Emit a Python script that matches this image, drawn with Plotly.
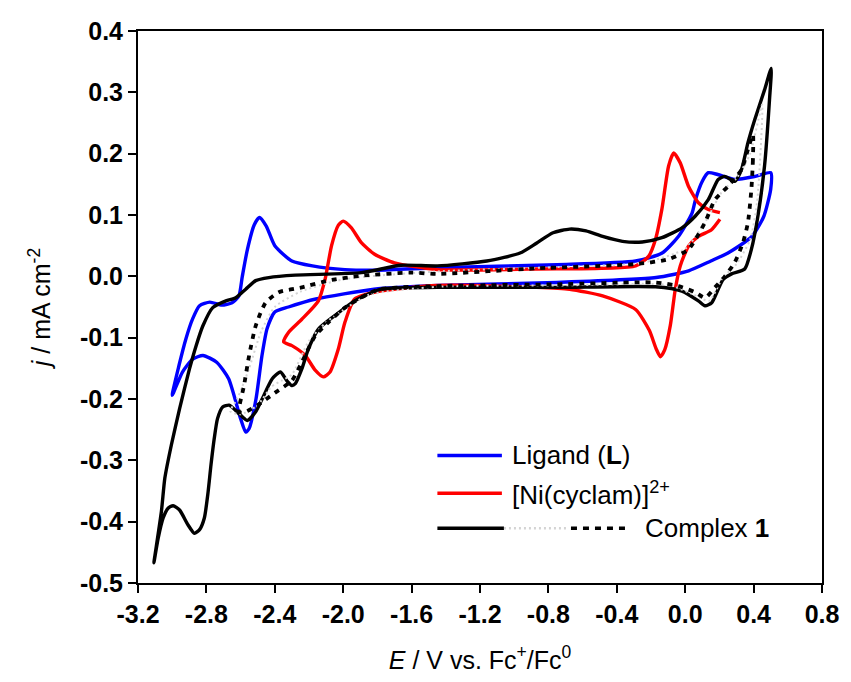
import plotly.graph_objects as go

# ---------------- data ----------------
# Ligand (L): potential (V vs Fc+/Fc0) and current density (mA cm-2)
E_ligand = [0.50, 0.50, 0.46, 0.39, 0.25, 0.15, 0.02, -0.17, -0.75, -1.45,
            -1.82, -2.16, -2.32, -2.40, -2.445, -2.475, -2.51, -2.55, -2.57, -2.60,
            -2.67, -2.74, -2.82, -2.88, -2.94, -3.00,
            -2.96, -2.92, -2.88, -2.84, -2.78, -2.71, -2.65, -2.61, -2.59, -2.56,
            -2.52, -2.49, -2.45, -2.40, -2.30, -2.18, -1.99, -1.80, -1.45, -0.75,
            -0.29, -0.135, -0.04, 0.04, 0.06, 0.10, 0.135, 0.19, 0.29, 0.41, 0.50]
j_ligand = [0.169, 0.142, 0.098, 0.065, 0.038, 0.025, 0.009, -0.002, -0.010, -0.015,
            -0.021, -0.037, -0.050, -0.058, -0.085, -0.129, -0.200, -0.248, -0.254, -0.232,
            -0.167, -0.140, -0.129, -0.135, -0.156, -0.194,
            -0.145, -0.102, -0.069, -0.048, -0.042, -0.047, -0.043, -0.032, 0.000, 0.044,
            0.084, 0.096, 0.082, 0.050, 0.025, 0.017, 0.011, 0.010, 0.014, 0.019,
            0.025, 0.038, 0.065, 0.103, 0.125, 0.155, 0.169, 0.166, 0.158, 0.163, 0.169]

# [Ni(cyclam)]2+
E_ni = [0.203, 0.154, 0.077, 0.019, -0.029, -0.058, -0.087, -0.12, -0.145, -0.17,
        -0.21, -0.29, -0.483, -0.676, -0.87, -1.45, -1.80, -1.933, -1.99, -2.029,
        -2.077, -2.116, -2.164, -2.222, -2.30, -2.348,
        -2.319, -2.242, -2.145, -2.106, -2.068, -2.029, -2.00, -1.952, -1.894, -1.816,
        -1.70, -1.45, -0.87, -0.29, -0.213, -0.174, -0.136, -0.097, -0.067, -0.029,
        0.019, 0.077, 0.135, 0.203]
j_ni = [0.093, 0.076, 0.065, 0.049, 0.017, -0.021, -0.080, -0.120, -0.131, -0.118,
        -0.088, -0.054, -0.032, -0.021, -0.018, -0.015, -0.025, -0.037, -0.075, -0.119,
        -0.156, -0.164, -0.153, -0.129, -0.113, -0.107,
        -0.091, -0.070, -0.040, -0.005, 0.050, 0.083, 0.090, 0.079, 0.055, 0.036,
        0.022, 0.011, 0.012, 0.017, 0.033, 0.060, 0.110, 0.180, 0.201, 0.185,
        0.147, 0.120, 0.109, 0.104]

# Complex 1, first scan (solid)
E_c1_first = [0.503, 0.493, 0.464, 0.425, 0.387, 0.348, 0.271, 0.222, 0.193, 0.155,
              0.116, 0.077, -0.019, -0.174, -0.754, -1.449, -1.778, -1.933, -2.049, -2.145,
              -2.203, -2.242, -2.28, -2.30, -2.33, -2.367, -2.415, -2.474, -2.512, -2.561,
              -2.609, -2.667, -2.705, -2.735, -2.754, -2.773, -2.792, -2.812, -2.84, -2.87,
              -2.908, -2.957, -2.995, -3.024, -3.053, -3.082, -3.107,
              -3.063, -3.043, -3.005, -2.957, -2.899, -2.86, -2.821, -2.763, -2.686, -2.628,
              -2.57, -2.512, -2.435, -2.28, -1.894, -1.662, -1.449, -1.16, -0.966, -0.87,
              -0.773, -0.676, -0.58, -0.483, -0.367, -0.251, -0.136, -0.019, 0.058, 0.135,
              0.193, 0.232, 0.29, 0.329, 0.367, 0.406, 0.464, 0.503]
j_c1_first = [0.339, 0.288, 0.180, 0.098, 0.044, 0.012, 0.004, -0.005, -0.021, -0.043,
              -0.048, -0.040, -0.024, -0.017, -0.018, -0.018, -0.021, -0.040, -0.064, -0.086,
              -0.118, -0.151, -0.175, -0.178, -0.170, -0.156, -0.167, -0.200, -0.221, -0.235,
              -0.224, -0.210, -0.213, -0.232, -0.264, -0.307, -0.356, -0.394, -0.413, -0.419,
              -0.405, -0.381, -0.374, -0.378, -0.394, -0.427, -0.467,
              -0.383, -0.329, -0.275, -0.216, -0.151, -0.113, -0.081, -0.051, -0.040, -0.035,
              -0.021, -0.007, -0.002, 0.002, 0.006, 0.018, 0.017, 0.025, 0.038, 0.054,
              0.071, 0.077, 0.074, 0.065, 0.057, 0.056, 0.063, 0.079, 0.098, 0.125,
              0.158, 0.163, 0.155, 0.174, 0.218, 0.255, 0.304, 0.339]

# Complex 1, intermediate scans (faint dotted)
E_c1_mid = [0.45, 0.44, 0.42, 0.38, 0.30, 0.22, 0.14, 0.05, -0.10, -0.75,
            -1.45, -1.85, -2.0, -2.10, -2.20, -2.30, -2.36, -2.42, -2.50, -2.60,
            -2.66, -2.62, -2.55, -2.48, -2.40, -2.25, -2.0, -1.45, -0.75, -0.25,
            0.0, 0.12, 0.22, 0.30, 0.38, 0.45]
j_c1_mid = [0.28, 0.20, 0.12, 0.06, 0.02, -0.002, -0.04, -0.03, -0.014, -0.015,
            -0.017, -0.03, -0.055, -0.075, -0.105, -0.160, -0.170, -0.180, -0.210, -0.225,
            -0.220, -0.200, -0.150, -0.090, -0.050, -0.025, -0.005, 0.008, 0.015, 0.022,
            0.045, 0.090, 0.140, 0.160, 0.200, 0.280]

# Complex 1, last scan (dashed)
E_c1_last = [0.396, 0.396, 0.387, 0.367, 0.338, 0.29, 0.232, 0.174, 0.116, 0.058,
             -0.039, -0.174, -0.754, -1.449, -1.80, -1.99, -2.087, -2.164, -2.242, -2.30,
             -2.40, -2.50, -2.58, -2.609,
             -2.58, -2.55, -2.512, -2.454, -2.377, -2.242, -2.087, -1.894, -1.604, -1.449,
             -0.87, -0.29, -0.097, 0.019, 0.116, 0.174, 0.251, 0.329, 0.367, 0.396]
j_c1_last = [0.231, 0.190, 0.142, 0.088, 0.055, 0.023, 0.000, -0.018, -0.035, -0.026,
             -0.016, -0.010, -0.013, -0.016, -0.022, -0.051, -0.075, -0.097, -0.140, -0.170,
             -0.190, -0.210, -0.222, -0.221,
             -0.178, -0.129, -0.081, -0.043, -0.026, -0.018, -0.007, 0.001, 0.006, 0.004,
             0.013, 0.020, 0.028, 0.044, 0.088, 0.125, 0.147, 0.174, 0.207, 0.231]

x_tickvals = [-3.2, -2.8, -2.4, -2.0, -1.6, -1.2, -0.8, -0.4, 0.0, 0.4, 0.8]
x_ticktext = ["-3.2", "-2.8", "-2.4", "-2.0", "-1.6", "-1.2", "-0.8", "-0.4", "0.0", "0.4", "0.8"]
y_tickvals = [0.4, 0.3, 0.2, 0.1, 0.0, -0.1, -0.2, -0.3, -0.4, -0.5]
y_ticktext = ["0.4", "0.3", "0.2", "0.1", "0.0", "-0.1", "-0.2", "-0.3", "-0.4", "-0.5"]

legend_labels = ["Ligand (<b>L</b>)", "[Ni(cyclam)]<sup>2+</sup>", "Complex <b>1</b>"]

FONT = "Liberation Sans, Arial, sans-serif"
BLUE = "#0000ff"
RED = "#ff0000"
BLACK = "#000000"
GRAY = "#d4d4d4"
DASH = "5px,6px"
LW = 3.4

fig = go.Figure()
fig.add_trace(go.Scatter(x=E_ligand, y=j_ligand, mode="lines",
                         line=dict(color=BLUE, width=LW, shape="spline", smoothing=0.6),
                         showlegend=False))
fig.add_trace(go.Scatter(x=E_ni, y=j_ni, mode="lines",
                         line=dict(color=RED, width=LW, shape="spline", smoothing=0.6),
                         showlegend=False))
fig.add_trace(go.Scatter(x=E_c1_first, y=j_c1_first, mode="lines",
                         line=dict(color=BLACK, width=LW, shape="spline", smoothing=0.6),
                         showlegend=False))
fig.add_trace(go.Scatter(x=E_c1_mid, y=j_c1_mid, mode="lines",
                         line=dict(color=GRAY, width=2, dash="2px,3px", shape="spline", smoothing=0.6),
                         showlegend=False))
fig.add_trace(go.Scatter(x=E_c1_last, y=j_c1_last, mode="lines",
                         line=dict(color=BLACK, width=3.8, dash=DASH, shape="spline", smoothing=0.6),
                         showlegend=False))

# ---------------- manual legend ----------------
leg_rows = [0.231, 0.1625, 0.0993]
x_line0, x_line1 = 0.4377, 0.532
shapes = [
    dict(type="line", xref="paper", yref="paper", x0=x_line0, x1=x_line1,
         y0=leg_rows[0], y1=leg_rows[0], line=dict(color=BLUE, width=3.5)),
    dict(type="line", xref="paper", yref="paper", x0=x_line0, x1=x_line1,
         y0=leg_rows[1], y1=leg_rows[1], line=dict(color=RED, width=3.5)),
    dict(type="line", xref="paper", yref="paper", x0=x_line0, x1=0.535,
         y0=leg_rows[2], y1=leg_rows[2], line=dict(color=BLACK, width=3.5)),
    dict(type="line", xref="paper", yref="paper", x0=0.535, x1=0.630,
         y0=leg_rows[2], y1=leg_rows[2], line=dict(color=GRAY, width=2.5, dash="2px,3px")),
    dict(type="line", xref="paper", yref="paper", x0=0.633, x1=0.717,
         y0=leg_rows[2], y1=leg_rows[2], line=dict(color=BLACK, width=3.5, dash="6px,6px")),
]
LEG_SIZE = 26
annotations = [
    dict(xref="paper", yref="paper", x=0.5435, y=leg_rows[0], text=legend_labels[0],
         showarrow=False, xanchor="left", yanchor="middle",
         font=dict(family=FONT, size=LEG_SIZE, color="black")),
    dict(xref="paper", yref="paper", x=0.5435, y=leg_rows[1], text=legend_labels[1],
         showarrow=False, xanchor="left", yanchor="middle",
         font=dict(family=FONT, size=LEG_SIZE, color="black")),
    dict(xref="paper", yref="paper", x=0.739, y=leg_rows[2], text=legend_labels[2],
         showarrow=False, xanchor="left", yanchor="middle",
         font=dict(family=FONT, size=LEG_SIZE, color="black")),
]

axis_common = dict(
    ticks="outside", ticklen=8, tickwidth=2, tickcolor="black",
    showline=True, linewidth=2, linecolor="black", mirror=True,
    showgrid=False, zeroline=False,
    tickfont=dict(family=FONT, size=25, color="black", weight="bold"),
)

fig.update_layout(
    width=851, height=682,
    margin=dict(l=138, r=23, t=31, b=97),
    paper_bgcolor="white", plot_bgcolor="white",
    font=dict(family=FONT, color="black"),
    shapes=shapes, annotations=annotations,
    xaxis=dict(range=[-3.2, 0.8], tickmode="array", tickvals=x_tickvals, ticktext=x_ticktext,
               title=dict(text="<i>E</i> / V vs. Fc<sup>+</sup>/Fc<sup>0</sup>",
                          font=dict(family=FONT, size=25, color="black"), standoff=24),
               **axis_common),
    yaxis=dict(range=[-0.5, 0.4], tickmode="array", tickvals=y_tickvals, ticktext=y_ticktext,
               title=dict(text="<i>j</i> / mA cm<sup>-2</sup>",
                          font=dict(family=FONT, size=25, color="black"), standoff=22),
               **axis_common),
)

# page setup: no body margin, figure pinned to the top-left corner of the window
page_fix = (
    "document.documentElement.style.margin='0px';"
    "document.documentElement.style.overflow='hidden';"
    "document.body.style.margin='0px';"
    "document.body.style.padding='0px';"
    "document.body.style.overflow='hidden';"
    "var gd=document.getElementById('{plot_id}');"
    "gd.style.position='fixed';gd.style.left='0px';gd.style.top='0px';"
)

fig.write_html("out.html", config={"displayModeBar": False}, post_script=page_fix)
